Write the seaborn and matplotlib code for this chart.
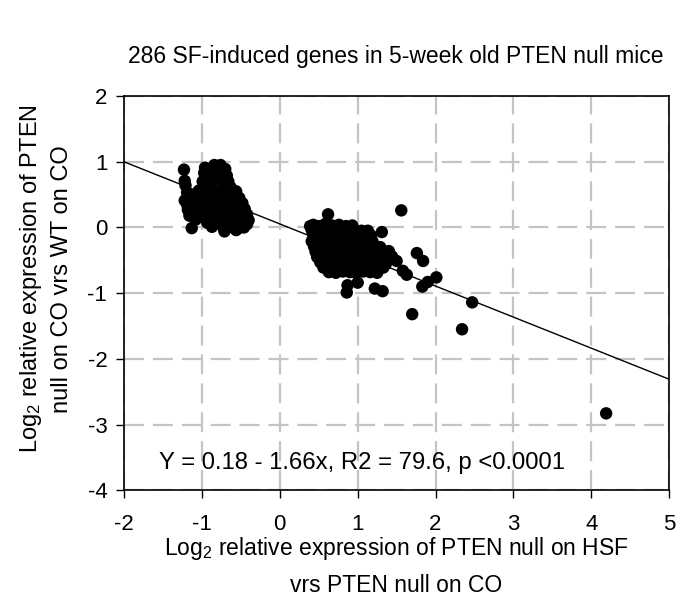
import numpy as np
import pandas as pd
import matplotlib
matplotlib.use("Agg")
import matplotlib.pyplot as plt
import seaborn as sns

title = "286 SF-induced genes in 5-week old PTEN null mice"
x_label = "Log$\\mathregular{_2}$ relative expression of PTEN null on HSF\nvrs PTEN null on CO"
y_label = "Log$\\mathregular{_2}$ relative expression of PTEN\nnull on CO vrs WT on CO"
fit_text = "Y = 0.18 - 1.66x, R2 = 79.6, p <0.0001"

x_ticks = [-2, -1, 0, 1, 2, 3, 4, 5]
y_ticks = [-4, -3, -2, -1, 0, 1, 2]

# regression line as drawn in the figure
fit_intercept = 0.054
fit_slope = -0.473
fit_x = [-2, 5]

# genes repressed by HSF (left cluster)
left_pts = [
    (-1.23, 0.88), (-1.22, 0.71), (-1.21, 0.64), (-1.19, 0.53), (-1.22, 0.41), (-1.19, 0.35),
    (-1.18, 0.27), (-1.16, 0.18), (-1.13, -0.01), (-1.12, 0.46), (-1.10, 0.30), (-1.08, 0.12),
    (-0.96, 0.91), (-0.97, 0.83), (-0.91, 0.76), (-0.84, 0.95), (-0.76, 0.95), (-0.70, 0.89),
    (-0.80, 0.87), (-0.88, 0.68), (-0.76, 0.80), (-0.68, 0.79), (-0.66, 0.70), (-0.93, 0.62),
    (-0.82, 0.73), (-0.72, 0.66), (-0.99, 0.70), (-0.86, 0.84), (-0.63, 0.61),
    (-1.04, 0.56), (-0.95, 0.54), (-0.86, 0.57), (-0.77, 0.55), (-0.69, 0.57), (-0.61, 0.53), (-0.56, 0.55),
    (-1.02, 0.47), (-0.92, 0.48), (-0.84, 0.46), (-0.75, 0.48), (-0.66, 0.46), (-0.58, 0.47), (-0.52, 0.45),
    (-1.05, 0.39), (-0.97, 0.40), (-0.88, 0.38), (-0.79, 0.40), (-0.70, 0.38), (-0.62, 0.40), (-0.54, 0.38),
    (-0.48, 0.37),
    (-1.03, 0.31), (-0.94, 0.30), (-0.85, 0.32), (-0.76, 0.30), (-0.67, 0.31), (-0.58, 0.29), (-0.50, 0.31),
    (-0.45, 0.28),
    (-1.00, 0.23), (-0.91, 0.22), (-0.82, 0.24), (-0.73, 0.22), (-0.64, 0.23), (-0.55, 0.21), (-0.47, 0.23),
    (-0.42, 0.20),
    (-0.97, 0.15), (-0.88, 0.14), (-0.79, 0.16), (-0.70, 0.14), (-0.61, 0.15), (-0.52, 0.13), (-0.44, 0.15),
    (-0.40, 0.11),
    (-0.93, 0.07), (-0.84, 0.08), (-0.75, 0.06), (-0.66, 0.08), (-0.57, 0.06), (-0.48, 0.07), (-0.42, 0.05),
    (-0.87, 0.01), (-0.72, -0.01), (-0.62, 0.01), (-0.53, -0.01), (-0.46, 0.00),
    (-0.71, -0.06), (-0.56, -0.04),
]

# genes induced by HSF (right cluster)
right_pts = [
    (0.62, 0.20), (0.39, 0.02), (1.56, 0.26), (1.13, -0.05), (1.31, -0.07),
    (0.43, 0.04), (0.50, 0.02), (0.58, 0.05), (0.67, 0.03), (0.76, 0.04), (0.85, 0.02), (0.93, 0.03),
    (0.41, -0.04), (0.49, -0.06), (0.57, -0.05), (0.66, -0.04), (0.74, -0.06), (0.83, -0.05),
    (0.91, -0.04), (0.99, -0.06), (1.05, -0.05),
    (0.43, -0.12), (0.51, -0.14), (0.60, -0.13), (0.68, -0.12), (0.77, -0.14), (0.86, -0.13),
    (0.94, -0.12), (1.03, -0.14), (1.11, -0.13), (1.17, -0.12),
    (0.41, -0.21), (0.50, -0.22), (0.58, -0.20), (0.67, -0.21), (0.75, -0.22), (0.84, -0.20),
    (0.93, -0.21), (1.01, -0.22), (1.10, -0.20), (1.19, -0.21),
    (0.44, -0.29), (0.52, -0.30), (0.61, -0.28), (0.69, -0.29), (0.78, -0.30), (0.87, -0.28),
    (0.95, -0.29), (1.04, -0.30), (1.12, -0.28), (1.21, -0.29), (1.29, -0.30),
    (0.46, -0.37), (0.55, -0.38), (0.63, -0.36), (0.72, -0.37), (0.81, -0.38), (0.89, -0.36),
    (0.98, -0.37), (1.07, -0.38), (1.15, -0.36), (1.24, -0.37), (1.33, -0.38), (1.40, -0.36),
    (0.48, -0.45), (0.57, -0.46), (0.66, -0.44), (0.74, -0.45), (0.83, -0.46), (0.92, -0.44),
    (1.00, -0.45), (1.09, -0.46), (1.18, -0.44), (1.26, -0.45), (1.35, -0.46), (1.44, -0.44),
    (0.52, -0.53), (0.61, -0.54), (0.69, -0.52), (0.78, -0.53), (0.87, -0.54), (0.95, -0.52),
    (1.04, -0.53), (1.13, -0.54), (1.21, -0.52), (1.30, -0.53), (1.36, -0.56), (1.50, -0.51),
    (0.56, -0.61), (0.65, -0.62), (0.73, -0.60), (0.82, -0.61), (0.91, -0.62), (0.99, -0.60),
    (1.08, -0.61), (1.17, -0.62), (1.25, -0.60), (1.33, -0.61),
    (0.63, -0.68), (0.72, -0.69), (0.81, -0.67), (0.90, -0.68), (0.98, -0.69), (1.07, -0.67),
    (1.16, -0.68), (1.25, -0.69),
    (0.87, -0.88), (0.86, -0.99), (1.00, -0.84), (1.22, -0.93), (1.32, -0.97), (1.76, -0.39),
    (1.84, -0.51), (1.58, -0.66), (1.63, -0.72), (1.83, -0.90), (1.90, -0.83), (2.01, -0.76),
    (2.47, -1.14), (1.70, -1.32), (2.34, -1.55),
]

outlier_pts = [(4.19, -2.83)]

sns.set_theme(style="white")
plt.rcParams["font.family"] = ["Liberation Sans", "DejaVu Sans"]
plt.rcParams["mathtext.fontset"] = "custom"
plt.rcParams["mathtext.rm"] = "Liberation Sans"
plt.rcParams["axes.unicode_minus"] = False
plt.rcParams["text.color"] = "black"
plt.rcParams["axes.labelcolor"] = "black"

df = pd.DataFrame(left_pts + right_pts + outlier_pts, columns=["x", "y"])

fig = plt.figure(figsize=(6.85, 6.12), dpi=100)
ax = fig.add_axes([0.181, 0.199, 0.796, 0.644])

line_x = np.array(fit_x)
sns.lineplot(x=line_x, y=fit_intercept + fit_slope * line_x, color="black", lw=1.0, ax=ax, zorder=2)
sns.scatterplot(data=df, x="x", y="y", color="black", s=80, edgecolor="none", ax=ax, zorder=3)

ax.set_xlim(-2, 5)
ax.set_ylim(-4, 2)
ax.set_xticks(x_ticks)
ax.set_yticks(y_ticks)
ax.set_axisbelow(True)
ax.grid(True, color="#c4c4c4", lw=1.6, linestyle=(0, (9, 4)))
for sp in ax.spines.values():
    sp.set_visible(True)
    sp.set_color("black")
    sp.set_linewidth(1.2)
ax.tick_params(direction="out", length=6, width=1.0, colors="black", labelsize=16,
               bottom=True, left=True)
ax.tick_params(axis="x", pad=11)
ax.tick_params(axis="y", pad=6)

ax.set_xlabel(x_label, fontsize=16.5, linespacing=1.65, labelpad=0)
ax.set_ylabel(y_label, fontsize=17, linespacing=1.4)
ax.yaxis.set_label_coords(-0.094, 0.536)
fig.text(0.578, 0.907, title, fontsize=16.5, ha="center", va="center")
ax.text(-1.55, -3.58, fit_text, fontsize=17.2, va="center")

fig.savefig("out.png", dpi=100)
